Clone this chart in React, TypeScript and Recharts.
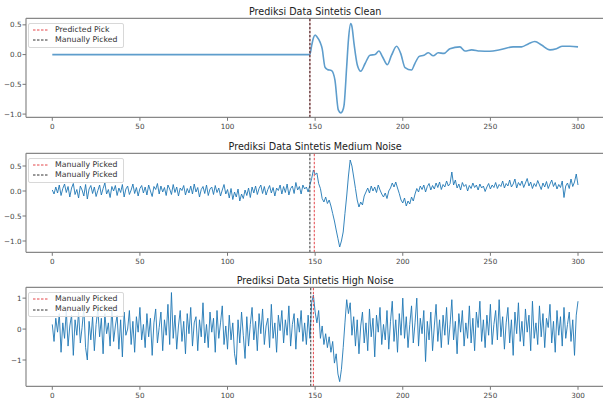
import { LineChart, Line, XAxis, YAxis, ReferenceLine, Legend } from "recharts";

const xTicks = [0, 50, 100, 150, 200, 250, 300];

// clean synthetic trace at irregular sample times
const cleanX = [
  0, 147, 148, 149, 150, 151, 152.8, 154, 155.6, 157, 159.4, 161.3, 163.2, 164.6, 165.6, 166.5, 168, 169, 170.3, 171,
  172.2, 174.1, 176, 178.5, 181.3, 184.2, 186.4, 188.5, 191.2, 193.6, 196.5, 198.8, 201.3, 205, 206.9, 209.4, 212.1,
  214.6, 217.4, 220.2, 223.5, 226.9, 232.6, 235.5, 239.3, 244, 249.7, 255.4, 263, 267.8, 271.6, 275.4, 279.2, 284,
  287.7, 291.1, 295.3, 300,
];
const cleanY = [
  0, 0, 0.15, 0.28, 0.33, 0.3, 0.21, 0.1, -0.21, -0.25, -0.27, -0.43, -0.93, -0.98, -0.95, -0.85, -0.2, 0.25, 0.52, 0.47,
  0.18, -0.18, -0.28, -0.15, -0.01, 0.0, 0.06, -0.04, -0.17, -0.01, 0.14, 0.02, -0.22, -0.26, -0.15, -0.03, -0.01,
  0.03, -0.02, 0.03, 0.02, 0.1, 0.13, 0.06, 0.08, 0.06, 0.055, 0.08, 0.13, 0.13, 0.18, 0.22, 0.16, 0.08,
  0.1, 0.14, 0.14, 0.13,
];

// medium noise trace, one value per time unit (0..300)
const mediumNoise = [
  0.02, -0.06, 0.08, -0.04, 0.12, -0.09, 0.05, 0.14, -0.03, 0.09, -0.12, 0.06, 0.15, -0.07, 0.03, -0.14, 0.1, 0.02, -0.1, 0.13,
  -0.16, 0.04, 0.11, -0.05, 0.08, -0.11, 0.01, 0.12, -0.08, 0.05, 0.16, -0.06, 0.03, -0.13, 0.09, 0.0, 0.11, -0.09, 0.06, -0.03,
  0.13, -0.12, 0.04, 0.1, -0.07, 0.02, 0.14, -0.05, 0.07, -0.1, 0.05, 0.11, -0.04, 0.08, -0.08, 0.12, 0.0, -0.11, 0.09, 0.03,
  0.15, -0.06, 0.1, -0.02, 0.07, -0.09, 0.12, 0.04, -0.07, 0.13, -0.03, 0.08, -0.1, 0.06, 0.01, 0.11, -0.08, 0.05, -0.04, 0.1,
  -0.06, 0.14, -0.02, 0.07, -0.12, 0.03, 0.09, -0.05, 0.12, -0.09, 0.04, 0.08, -0.07, 0.11, -0.03, 0.06, -0.1, 0.02, 0.13, -0.06,
  0.03, -0.14, 0.05, -0.17, -0.02, -0.12, 0.04, -0.2, -0.06, -0.15, 0.02, -0.09, 0.06, -0.13, 0.08, -0.04, 0.1, -0.07, 0.05, 0.12,
  -0.05, 0.09, -0.08, 0.03, 0.11, -0.04, 0.07, -0.1, 0.06, 0.01, 0.12, -0.06, 0.09, -0.03, 0.14, -0.08, 0.05, 0.1, -0.05, 0.17,
  0.02, 0.09, -0.06, 0.12, 0.04, 0.08, -0.02, 0.12, 0.25, 0.42, 0.33, 0.36, 0.15, 0.05, -0.15, -0.22, -0.12, -0.25, -0.18, -0.3,
  -0.45, -0.6, -0.78, -0.95, -1.12, -1.0, -0.82, -0.45, -0.1, 0.3, 0.62, 0.5, 0.28, 0.05, -0.18, -0.32, -0.22, -0.28, -0.1, -0.02,
  0.06, -0.04, 0.1, 0.0, 0.08, -0.03, 0.12, 0.02, -0.06, -0.12, -0.04, -0.15, 0.0, 0.06, 0.16, 0.08, 0.18, 0.06, -0.05, -0.18,
  -0.24, -0.14, -0.3, -0.2, -0.26, -0.12, -0.2, -0.06, 0.05, -0.02, 0.1, 0.03, 0.12, -0.02, 0.09, 0.15, 0.02, 0.11, 0.04, 0.16,
  0.07, 0.18, 0.03, 0.13, 0.08, 0.2, 0.1, 0.15, 0.38, 0.12, 0.22, 0.06, 0.14, 0.02, 0.17, 0.09, 0.13, 0.0, 0.11, 0.05,
  0.16, 0.07, 0.12, 0.02, 0.14, 0.06, 0.1, -0.01, 0.08, 0.15, 0.04, 0.12, 0.07, 0.17, 0.05, 0.13, 0.09, 0.2, 0.06, 0.15,
  0.1, 0.22, 0.08, 0.14, 0.24, 0.06, 0.17, 0.11, 0.2, 0.07, 0.16, 0.25, 0.1, 0.18, 0.05, 0.15, 0.09, 0.21, 0.12, 0.03,
  0.16, 0.08, 0.19, 0.05, 0.14, 0.22, 0.09, 0.17, 0.04, 0.13, 0.07, 0.2, -0.13, 0.1, 0.16, 0.05, 0.24, 0.09, 0.18, 0.34,
  0.12,
];

// high noise trace, one value per time unit (0..300)
const highNoise = [
  0.15, -0.4, 0.35, -0.1, 0.5, -0.75, 0.2, -0.3, 0.6, -0.55, 0.1, 0.45, -0.85, 0.3, -0.2, 0.55, -0.45, 0.05, 0.7, -0.6,
  -1.0, 0.25, -0.35, 0.4, -0.7, 0.15, 0.65, -0.25, 0.35, -0.8, 0.5, -0.15, 0.2, -0.55, 0.75, -0.4, 0.1, 0.45, -0.65, 0.3,
  -0.9, 0.55, -0.2, 0.0, 0.6, -0.5, 0.25, -0.75, 0.4, -0.1, 0.7, -0.35, 0.15, -0.6, 0.5, -0.25, 0.35, -0.85, 0.2, 0.65,
  -0.45, 0.05, 0.55, -0.7, 0.3, -0.2, 0.8, -0.5, 1.18, -0.3, 0.45, -0.65, 0.1, 0.6, -0.4, 0.25, -0.8, 0.5, -0.15, 0.7,
  -0.55, 0.2, 0.4, -0.7, 0.3, -0.25, 0.85, -0.45, 0.15, -0.6, 0.55, -0.1, 0.35, -0.75, 0.6, -0.3, 0.2, 0.75, -0.5, 0.1,
  -0.65, 0.45, -0.35, 0.2, -0.8, -1.15, 0.3, -0.45, 0.55, -0.2, -0.95, 0.4, -0.55, 0.15, 0.7, -0.35, 0.25, -0.7, 0.5, -0.15,
  0.65, -0.5, 0.1, 0.35, -0.6, 0.8, -0.3, 0.2, -0.75, 0.45, -0.05, 0.6, -0.45, 0.3, -0.2, 0.75, -0.55, 0.15, 0.5, -0.65,
  0.35, -0.1, 0.6, -0.4, 0.2, -0.5, 0.45, -0.3, 0.85, 1.1, 0.55, 0.2, 0.6, -0.3, 0.1, -0.5, -0.15, -0.6, -0.25, -0.75,
  -0.4, -1.1, -0.8, -1.45, -1.7, -1.3, -0.6, 0.2, 0.95, 0.5, 0.85, -0.2, 0.4, -0.55, 0.3, -0.8, 0.1, 0.55, -0.45, 0.2,
  -0.7, 0.65, -0.25, 0.35, -0.9, 0.45, -0.1, 0.7, -0.5, 0.15, -0.35, 0.6, -0.65, 0.25, 0.9, -0.4, 0.3, -0.75, 0.5, -0.2,
  1.0, -0.3, 0.4, -0.6, 0.15, 0.75, -0.45, 0.2, 1.0, -0.55, 0.35, -0.15, 0.6, -1.05, 0.25, -0.35, 0.55, -0.7, 0.1, 0.8,
  -0.4, 0.3, -0.6, 0.45, -0.2, 0.7, -0.5, 0.15, 0.95, -0.35, 0.25, -0.8, 0.5, -0.1, 0.6, -0.55, 0.2, -0.3, 0.75, -0.45,
  0.35, -0.7, 0.55, 0.05, 0.9, -0.4, 0.3, -0.6, 0.45, -0.2, 0.8, -0.5, 0.15, 0.6, -0.35, 0.95, -0.25, 0.4, -0.65, 0.2,
  0.7, -0.45, 0.3, -0.85, 0.55, -0.15, 0.85, -0.4, 0.25, -0.55, 0.65, -0.1, 0.45, -0.7, 0.9, -0.3, 0.2, -0.5, 0.75, -0.25,
  0.5, -0.6, 0.35, 0.05, 0.8, -0.45, 0.25, -0.75, 0.6, -0.2, 0.4, -0.55, 0.7, -0.3, 0.15, 0.55, -0.4, 0.3, -0.85, 0.45,
  0.9,
];

const FONT = "'DejaVu Sans', sans-serif";
const W = 606;
const H = 140;
const PLOT_TOP = 18.3;
const PLOT_LEFT = 26;
const RIGHT_MARGIN = 1.7;
const SPINE = "#888";

const fmtDec = (v: number) => v.toFixed(1).replace("-", "\u2212");
const fmtInt = (v: number) => String(v).replace("-", "\u2212");

type LegendItem = { label: string; color: string };

const LegendBox = ({ items }: { items: LegendItem[] }) => (
  <div
    style={{
      border: "1px solid #d8d8d8",
      borderRadius: 2,
      background: "rgba(255,255,255,0.85)",
      padding: "1px 5px 1px 4px",
      fontFamily: FONT,
      fontSize: 7.8,
      color: "#333",
      lineHeight: "10.5px",
    }}
  >
    {items.map((it, i) => (
      <div key={i} style={{ display: "flex", alignItems: "center", whiteSpace: "nowrap" }}>
        <svg width={16} height={4} style={{ marginRight: 6 }}>
          <line x1={0} y1={2} x2={16} y2={2} stroke={it.color} strokeWidth={1} strokeDasharray="2.5 1.5" />
        </svg>
        <span>{it.label}</span>
      </div>
    ))}
  </div>
);

type PanelProps = {
  top: number;
  title: string;
  data: { x: number; y: number }[];
  domain: [number, number];
  yTicks: number[];
  fmt: (v: number) => string;
  legend: LegendItem[];
  redPick: number;
  blackPick: number;
  color: string;
  width: number;
  curve: "monotone" | "linear";
};

const Panel = (p: PanelProps) => {
  const tickStyle = { fontSize: 7.2, fill: "#444", fontFamily: FONT };
  return (
    <div style={{ position: "absolute", left: 0, top: p.top }}>
      <LineChart width={W} height={H} data={p.data} margin={{ top: PLOT_TOP, right: RIGHT_MARGIN, bottom: 0, left: 0 }}>
        <XAxis
          type="number"
          dataKey="x"
          domain={[-15, 315]}
          ticks={xTicks}
          allowDataOverflow
          interval={0}
          axisLine={{ stroke: SPINE, strokeWidth: 1.2 }}
          tickLine={{ stroke: "#777" }}
          tickSize={3.5}
          tickMargin={2.7}
          height={22.7}
          tick={tickStyle}
        />
        <YAxis
          type="number"
          domain={p.domain}
          ticks={p.yTicks}
          allowDataOverflow
          interval={0}
          width={PLOT_LEFT}
          axisLine={{ stroke: SPINE, strokeWidth: 1.2 }}
          tickLine={{ stroke: "#777" }}
          tickSize={3.5}
          tickMargin={1}
          tickFormatter={p.fmt}
          tick={tickStyle}
        />
        {/* top spine */}
        <ReferenceLine y={p.domain[1]} stroke={SPINE} strokeWidth={1.2} />
        <Line
          dataKey="y"
          type={p.curve}
          stroke={p.color}
          strokeWidth={p.width}
          dot={false}
          activeDot={false}
          isAnimationActive={false}
        />
        <ReferenceLine x={p.redPick} stroke="#e4474b" strokeWidth={1} strokeDasharray="2.5 1.5" />
        <ReferenceLine x={p.blackPick} stroke="#333" strokeWidth={1} strokeDasharray="2.5 1.5" />
        <Legend
          layout="vertical"
          align="center"
          verticalAlign="middle"
          wrapperStyle={{ left: 28, top: PLOT_TOP + 4.2, width: "auto" }}
          content={() => <LegendBox items={p.legend} />}
        />
        <text
          x={(PLOT_LEFT + W - RIGHT_MARGIN) / 2}
          y={PLOT_TOP - 3}
          textAnchor="middle"
          fontFamily={FONT}
          fontSize={9.6}
          fill="#222"
        >
          {p.title}
        </text>
      </LineChart>
    </div>
  );
};

export default function App() {
  const cleanData = cleanX.map((x, i) => ({ x, y: cleanY[i] }));
  const mediumData = mediumNoise.map((y, i) => ({ x: i, y }));
  const highData = highNoise.map((y, i) => ({ x: i, y }));
  return (
    <div
      style={{
        position: "absolute",
        left: 0,
        top: 0,
        width: 603,
        height: 401,
        overflow: "hidden",
        background: "#fff",
      }}
    >
      <Panel
        top={0}
        title="Prediksi Data Sintetis Clean"
        data={cleanData}
        domain={[-1.054, 0.61]}
        yTicks={[-1, -0.5, 0, 0.5]}
        fmt={fmtDec}
        legend={[
          { label: "Predicted Pick", color: "#e4474b" },
          { label: "Manually Picked", color: "#333" },
        ]}
        redPick={147}
        blackPick={147}
        color="#5e9dcc"
        width={1.6}
        curve="monotone"
      />
      <Panel
        top={135}
        title="Prediksi Data Sintetis Medium Noise"
        data={mediumData}
        domain={[-1.226, 0.754]}
        yTicks={[-1, -0.5, 0, 0.5]}
        fmt={fmtDec}
        legend={[
          { label: "Manually Picked", color: "#e4474b" },
          { label: "Manually Picked", color: "#333" },
        ]}
        redPick={149.5}
        blackPick={147}
        color="#1f77b4"
        width={0.9}
        curve="linear"
      />
      <Panel
        top={269.4}
        title="Prediksi Data Sintetis High Noise"
        data={highData}
        domain={[-1.85, 1.35]}
        yTicks={[-1, 0, 1]}
        fmt={fmtInt}
        legend={[
          { label: "Manually Picked", color: "#e4474b" },
          { label: "Manually Picked", color: "#333" },
        ]}
        redPick={149}
        blackPick={147.5}
        color="#1f77b4"
        width={0.9}
        curve="linear"
      />
    </div>
  );
}
